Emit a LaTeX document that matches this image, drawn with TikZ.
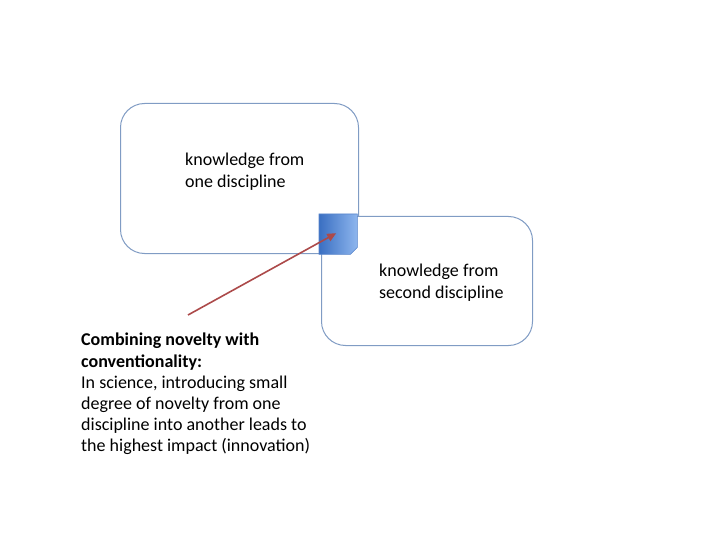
\documentclass[tikz,border=0pt]{standalone}
\usepackage{fontspec}
\setmainfont{Carlito}
\usepackage{xcolor}
\usetikzlibrary{arrows.meta,positioning}

\definecolor{boxline}{RGB}{128,156,196}
\definecolor{arrowred}{RGB}{172,74,74}
\definecolor{sqdark}{RGB}{58,111,194}
\definecolor{sqlight}{RGB}{142,182,238}

\tikzset{
  knowbox/.style={draw=boxline, line width=1pt, fill=white, rounded corners=24pt},
  knowtext/.style={anchor=north west, inner sep=0pt, align=left,
    font=\fontsize{18}{22}\selectfont},
}

\begin{document}
\begin{tikzpicture}[x=1pt, y=-1pt]
  \useasboundingbox (0,0) rectangle (720,540);

  % the two disciplines
  \node[knowbox, minimum width=238pt, minimum height=150pt, anchor=north west]
    (first) at (120,103) {};
  \node[knowbox, minimum width=211pt, minimum height=129pt, anchor=north west]
    (second) at (321,216) {};
  \node[knowtext] (firsttext) at (185,152.5) {knowledge from\\one discipline};
  \node[knowtext] (secondtext) at (379,264) {knowledge from\\second discipline};

  % overlap of the two, lower right corner cut off
  \node[minimum width=38pt, minimum height=40pt, inner sep=0pt, anchor=north west]
    (overlap) at (319,214) {};
  \shade[draw=sqdark!85, line width=0.6pt, left color=sqdark, right color=sqlight]
    (overlap.north west) -- (overlap.north east)
    -- ([yshift=7pt]overlap.south east) -- ([xshift=-7pt]overlap.south east)
    -- (overlap.south west) -- cycle;

  % note
  \node[knowtext, font=\fontsize{18}{21.2}\selectfont] (note) at (81,333)
    {\textbf{Combining novelty with}\\
     \textbf{conventionality:}\\
     In science, introducing small\\
     degree of novelty from one\\
     discipline into another leads to\\
     the highest impact (innovation)};
  \coordinate (tail) at (188,315);
  \draw[arrowred, line width=1.6pt, -{Triangle[length=9pt, width=8pt]}]
    (tail) -- ([xshift=-2pt, yshift=1pt]overlap.center);

\end{tikzpicture}
\end{document}
